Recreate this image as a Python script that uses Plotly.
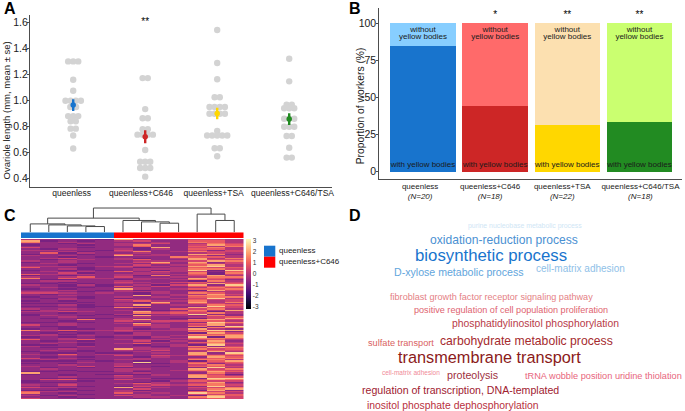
import plotly.graph_objects as go

W, H = 685, 411
FONT = "Liberation Sans"
INK = "#1a1a1a"
AXIS = "#4d4d4d"

# ---------- panel A ----------
groups = ["queenless", "queenless+C646", "queenless+TSA", "queenless+C646/TSA"]
a_vals = [
    [1.302, 1.302, 1.302, 1.16, 1.076, 0.999, 0.999, 0.999, 0.999, 0.95, 0.95,
     0.88, 0.88, 0.88, 0.84, 0.84, 0.783, 0.783, 0.73, 0.63],
    [1.173, 1.173, 0.934, 0.863, 0.863, 0.778, 0.778, 0.737, 0.737, 0.737, 0.737,
     0.618, 0.528, 0.528, 0.528, 0.48, 0.48, 0.48, 0.413],
    [1.544, 1.29, 1.164, 1.025, 1.025, 0.95, 0.95, 0.95, 0.95, 0.898, 0.898, 0.898, 0.898,
     0.765, 0.73, 0.73, 0.73, 0.73, 0.73, 0.632, 0.632, 0.57],
    [1.322, 1.148, 0.968, 0.968, 0.94, 0.94, 0.94, 0.86, 0.86, 0.86, 0.798, 0.798, 0.798,
     0.727, 0.727, 0.636, 0.56, 0.56],
]
a_jitter = [
    [-.07, 0, .07, 0, 0, -.107, -.036, .036, .107, -.04, .04,
     -.07, 0, .07, -.036, .036, -.036, .036, 0, 0],
    [-.036, .036, 0, -.036, .036, -.036, .036, -.107, -.036, .036, .107,
     0, -.07, 0, .07, -.07, 0, .07, 0],
    [0, 0, 0, -.036, .036, -.107, -.036, .036, .107, -.107, -.036, .036, .107,
     0, -.14, -.07, 0, .07, .14, -.036, .036, 0],
    [0, 0, -.036, .036, -.07, 0, .07, -.07, 0, .07, -.07, 0, .07,
     -.036, .036, 0, -.036, .036],
]
a_mean = [0.965, 0.72, 0.90, 0.857]
a_se = [0.045, 0.05, 0.045, 0.045]
a_label_pos = [-0.021, 0.942, 1.951, 3.046]
dark = ["#1874CD", "#CD2626", "#FFD700", "#228B22"]

# ---------- panel B ----------
b_labels = ["queenless<br><i>(N=20)</i>", "queenless+C646<br><i>(N=18)</i>",
            "queenless+TSA<br><i>(N=22)</i>", "queenless+C646/TSA<br><i>(N=18)</i>"]
b_label_pos = [-0.04, 0.93, 1.93, 3.014]
with_yb = [85, 44.4, 31.8, 33.3]
without_yb = [15, 55.6, 68.2, 66.7]
light = ["#87CEFF", "#FF6A6A", "#FCE0B0", "#CAFF70"]
b_stars = ["", "*", "**", "**"]

# ---------- panel C ----------
heat_rows = """
32221 7333 443|71212 3422 553|62322 2232 653|22132 3342 364|12212 3622 475|22222 2522 536|42212 2172 463|21322 3132 553
33221 4222 424|22312 3623 644|25132 2322 343|12212 5232 762|32322 7332 423|22121 2226 553|23422 3123 736|21232 3522 744
32322 2333 476|12322 2472 724|23212 3252 634|22122 2423 573|33323 4332 783|52212 3123 545|22312 2333 664|12121 2313 818
23232 5243 425|22412 2332 616|53332 3323 514|12122 3162 473|32352 4223 366|62533 2332 754|21122 1323 642|23322 3222 163
22122 4324 534|11212 3232 475|32131 2314 728|22121 5242 546|23212 2322 364|12122 7323 556|22321 3122 174|33212 3332 433
44323 2132 653|21222 2123 374|22322 2723 663|12212 3232 566|21312 1223 483|22322 4322 544|12122 3533 634|22212 2172 736
11122 3252 543|22312 3723 365|11211 2122 284|22212 6522 754|32322 2125 463|13222 3212 637|33432 2734 513|22122 2645 463
12221 3123 822|13212 1733 262|22322 2322 345|21211 3221 147|22262 3722 674|22122 4344 553|11212 2132 286|22322 3722 574
42322 2532 473|21122 2232 628|22122 3232 166|12112 3123 732|63533 4333 587|22122 3222 652|21212 1322 174|23122 2322 656
33232 3323 567|12121 2132 817|22322 2123 665|52352 3332 453|21212 2413 272|22322 2232 563|23212 3522 374|11212 2123 183
32232 2213 624|21122 2322 476|22322 7332 645|23212 3242 354|12212 2322 373|21121 1232 728|32523 3222 736|22322 4243 564
21212 2132 275|42322 2322 456|23212 3322 663|11121 2123 157|22232 2823 545|12122 3112 624|22322 3222 463|32242 4212 554
21212 1222 283|23222 3322 746|22122 3223 654|11211 3122 375|72222 2322 263|12121 1132 641|22122 4232 753|22322 3222 755
21111 2311 188|24522 4222 476|12212 2213 544|11122 2132 372|22322 3532 463|32422 2343 564|21212 1422 283|43322 7232 446
22122 2422 367|11212 3122 172|53322 3322 544|62122 5232 863|22212 2322 445|31322 4323 175|22122 2332 684|42212 2122 454
"""
heat_levels = [-1.5, -0.95, -0.55, -0.05, 0.45, 0.9, 1.4, 1.95, 2.5, 2.9]
heat_z = [[heat_levels[int(c)] for c in row.replace(" ", "")]
          for row in heat_rows.replace("\n", "|").strip("|").split("|")]
col_group = [0, 0, 0, 0, 0, 1, 1, 1, 1, 1, 1, 1]
cbar_ticks = [3, 2, 1, 0, -1, -2, -3]
merge_a = [3, 2, 1, 0, 7, 6, 5, 15, 10, 9, 19]
merge_b = [4, 12, 13, 14, 8, 16, 17, 18, 11, 20, 21]
merge_h = [5.7, 6.3, 7.3, 8.3, 9, 10.3, 11.7, 14, 11.7, 18, 24]

# ---------- panel D ----------
words = ["purine nucleobase metabolic process", "oxidation-reduction process", "biosynthetic process",
         "D-xylose metabolic process", "cell-matrix adhesion",
         "fibroblast growth factor receptor signaling pathway",
         "positive regulation of cell population proliferation",
         "phosphatidylinositol phosphorylation", "sulfate transport",
         "carbohydrate metabolic process", "transmembrane transport", "cell-matrix adhesion",
         "proteolysis", "tRNA wobble position uridine thiolation",
         "regulation of transcription, DNA-templated", "inositol phosphate dephosphorylation"]
word_size = [6.9, 12.1, 16.8, 10.6, 10, 9.1, 9.1, 10.4, 9.2, 12.2, 16.3, 6.5, 10.7, 9.2, 10.6, 10.4]
word_col = ["#CFE6F5", "#4A90D2", "#1874CD", "#62A5DC", "#8FC1E8", "#E57F85", "#E0636F", "#B83A48",
            "#D95F62", "#A52A2E", "#8B1A1A", "#F08A98", "#A03040", "#E8657C", "#A02030", "#B83040"]
word_x = [525.3, 504.2, 490.5, 459.2, 580.7, 491.8, 511.2, 535.3, 401, 526.8, 489.2, 411.2, 473, 603.2, 460.7, 452.7]
word_y = [226, 240.3, 255, 272, 268.7, 297, 310, 323.7, 342.7, 340.7, 357, 372.7, 374.7, 376, 390, 405]
letters = ["A", "B", "C", "D"]
letter_x = [2, 347, 2, 347]
letter_y = [9, 9, 215, 215]


def dx(a, b):
    return [a / W, b / W]


def dy(top, bottom):
    return [1 - bottom / H, 1 - top / H]


fig = go.Figure()

# A
for i, g in enumerate(groups):
    fig.add_trace(go.Scatter(x=[i + j for j in a_jitter[i]], y=a_vals[i], mode="markers",
                             marker=dict(size=6.4, color="#D3D3D3"), xaxis="x", yaxis="y", showlegend=False))
for i, g in enumerate(groups):
    fig.add_trace(go.Scatter(x=[i], y=[a_mean[i]], mode="markers",
                             marker=dict(size=5.5, color=dark[i]),
                             error_y=dict(type="data", array=[a_se[i]], width=0, thickness=2.4, color=dark[i]),
                             xaxis="x", yaxis="y", showlegend=False))
fig.add_trace(go.Scatter(x=[1], y=[1.605], mode="text", text=["**"],
                         textfont=dict(size=10, color="black", family=FONT), xaxis="x", yaxis="y", showlegend=False))

# B
fig.add_trace(go.Bar(x=[0, 1, 2, 3], y=with_yb, width=0.906, marker=dict(color=dark, line=dict(width=0)),
                     xaxis="x2", yaxis="y2", showlegend=False))
fig.add_trace(go.Bar(x=[0, 1, 2, 3], y=without_yb, width=0.906, marker=dict(color=light, line=dict(width=0)),
                     xaxis="x2", yaxis="y2", showlegend=False))
n = len(groups)
for label, yv in (("without", 95.2), ("yellow bodies", 90.7), ("with yellow bodies", 4.4)):
    fig.add_trace(go.Scatter(x=list(range(n)), y=[yv] * n, mode="text", text=[label] * n,
                             textfont=dict(size=8, color=INK, family=FONT), xaxis="x2", yaxis="y2", showlegend=False))
fig.add_trace(go.Scatter(x=list(range(n)), y=[105.5] * n, mode="text", text=b_stars,
                         textfont=dict(size=10, color="black", family=FONT), xaxis="x2", yaxis="y2", showlegend=False))

# C heatmap
fig.add_trace(go.Heatmap(z=heat_z, colorscale="Magma", zmin=-3.2, zmax=3.2, xaxis="x3", yaxis="y3",
                         colorbar=dict(x=246 / W, xanchor="left", y=1 - 239 / H, yanchor="top",
                                       len=70 / H, lenmode="fraction", thickness=5, thicknessmode="pixels",
                                       outlinewidth=0, tickvals=cbar_ticks, ticktext=[str(t) for t in cbar_ticks],
                                       ticks="", xpad=0, ypad=0,
                                       tickfont=dict(size=6.5, color="#333333", family=FONT))))
fig.add_trace(go.Heatmap(z=[col_group], colorscale=[[0, "#1874CD"], [1, "#FF0000"]], showscale=False,
                         xaxis="x5", yaxis="y5"))

# C dendrogram
pos = {i: (i + 0.5, 0.0) for i in range(12)}
dx_line, dy_line = [], []
for k, (a, b, h) in enumerate(zip(merge_a, merge_b, merge_h)):
    xa, ha = pos[a]
    xb, hb = pos[b]
    dx_line += [xa, xa, xb, xb, None]
    dy_line += [ha, h, h, hb, None]
    pos[12 + k] = ((xa + xb) / 2, h)
fig.add_trace(go.Scatter(x=dx_line, y=dy_line, mode="lines", line=dict(color="#4a4a4a", width=1),
                         xaxis="x4", yaxis="y4", showlegend=False))

axis_common = dict(showgrid=False, zeroline=False, showline=True, linecolor=AXIS, linewidth=1,
                   ticklen=2, tickcolor=AXIS, tickwidth=1, tickangle=0)
layout = dict(
    width=W, height=H, margin=dict(l=0, r=0, t=0, b=0, autoexpand=False), paper_bgcolor="white", plot_bgcolor="white",
    barmode="stack", font=dict(family=FONT, color=INK), showlegend=False,
    xaxis=dict(domain=dx(30, 332.4), range=[-0.6, 3.6], tickvals=a_label_pos, ticktext=groups, ticks="",
               ticklabelstandoff=-2, tickfont=dict(size=8.5, color=INK), anchor="y", **axis_common),
    yaxis=dict(domain=dy(15, 187), range=[0.333, 1.66], tickvals=[0.4, 0.6, 0.8, 1.0, 1.2, 1.4, 1.6],
               ticktext=["0.4", "0.6", "0.8", "1.0", "1.2", "1.4", "1.6"], ticks="outside",
               ticklabelstandoff=-3, tickfont=dict(size=10.5, color=INK), anchor="x", **axis_common),
    xaxis2=dict(domain=dx(379.3, 682), range=[-0.606, 3.59], tickvals=b_label_pos, ticktext=b_labels, ticks="",
                ticklabelstandoff=-1, tickfont=dict(size=8, color=INK), anchor="y2", **axis_common),
    yaxis2=dict(domain=dy(8.3, 179.3), range=[-5.1, 110.1], tickvals=[0, 25, 50, 75, 100], ticks="outside",
                ticklabelstandoff=-2, tickfont=dict(size=10.5, color=INK), anchor="x2", **axis_common),
    xaxis3=dict(domain=dx(21, 243.5), visible=False, anchor="y3"),
    yaxis3=dict(domain=dy(239, 399.3), visible=False, autorange="reversed", anchor="x3"),
    xaxis4=dict(domain=dx(21, 243.5), range=[0, 12], visible=False, anchor="y4"),
    yaxis4=dict(domain=dy(205, 232.3), range=[0, 27], visible=False, anchor="x4"),
    xaxis5=dict(domain=dx(21, 243.5), visible=False, anchor="y5"),
    yaxis5=dict(domain=dy(232.3, 238), visible=False, anchor="x5"),
)
fig.update_layout(**layout)

# axis titles
for t, xp, yp, s in (("Ovariole length (mm, mean ± se)", 5.5, 111, 9.5),
                     ("Proportion of workers (%)", 360, 106.3, 10.3)):
    fig.add_annotation(text=t, xref="paper", yref="paper", x=xp / W, y=1 - yp / H, xanchor="center", yanchor="middle",
                       textangle=-90, showarrow=False, font=dict(size=s, color=INK, family=FONT))

# legend of panel C
fig.add_shape(type="rect", xref="paper", yref="paper", x0=264 / W, x1=275.3 / W, y0=1 - 245.7 / H, y1=1 - 256.7 / H,
              fillcolor="#1874CD", line_width=0)
fig.add_shape(type="rect", xref="paper", yref="paper", x0=264 / W, x1=275.3 / W, y0=1 - 256.7 / H, y1=1 - 267.7 / H,
              fillcolor="#FF0000", line_width=0)
for t, yy in (("queenless", 250), ("queenless+C646", 261)):
    fig.add_annotation(text=t, xref="paper", yref="paper", x=276.5 / W, y=1 - yy / H, xanchor="left", yanchor="middle",
                       showarrow=False, font=dict(size=8, color=INK, family=FONT))

for t, s, c, xp, yp in zip(words, word_size, word_col, word_x, word_y):
    fig.add_annotation(text=t, xref="paper", yref="paper", x=xp / W, y=1 - yp / H, xanchor="center", yanchor="middle",
                       showarrow=False, font=dict(size=s, color=c, family=FONT))
for t, xp, yp in zip(letters, letter_x, letter_y):
    fig.add_annotation(text=f"<b>{t}</b>", xref="paper", yref="paper", x=xp / W, y=1 - yp / H, xanchor="left",
                       yanchor="middle", showarrow=False, font=dict(size=16, color="black", family=FONT))

fig.write_html("out.html", config={"displayModeBar": False},
               post_script="document.body.style.margin='0';document.documentElement.style.overflow='hidden';")
